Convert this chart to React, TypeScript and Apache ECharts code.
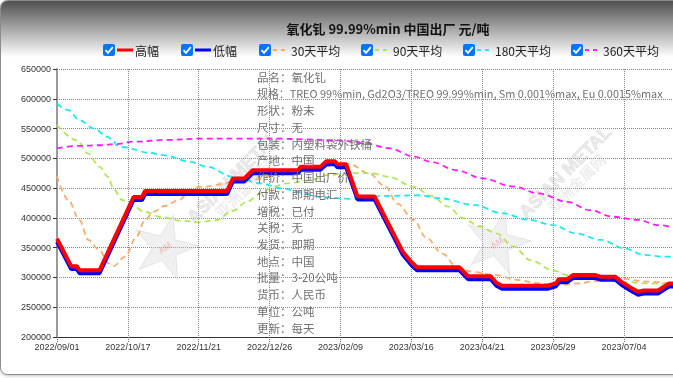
import React, { useEffect, useRef } from 'react';
import * as echarts from 'echarts';

// ---- data (x = trading-day index, 25 per labelled tick) ----
const tickLabels = ['2022/09/01', '2022/10/17', '2022/11/21', '2022/12/26', '2023/02/09', '2023/03/16', '2023/04/21', '2023/05/29', '2023/07/04'];

const seriesNames = ['高幅', '低幅', '30天平均', '90天平均', '180天平均', '360天平均'];

const highData = [
  [0, 365000], [5, 319000], [7, 319000], [8, 312000], [15, 312000], [27, 435000], [30, 435000], [31, 445000],
  [60, 445000], [62, 466000], [66, 466000], [69, 480000], [85, 480000], [86, 486000], [93, 486000], [95, 495000],
  [98, 495000], [99, 490000], [102, 490000], [106, 436000], [112, 436000], [122, 343000], [125, 326000], [127, 317000],
  [142, 317000], [145, 302000], [153, 302000], [155, 291000], [157, 286000], [173, 286000], [176, 290000], [177, 297000],
  [180, 297000], [182, 304000], [190, 304000], [192, 301000], [197, 301000], [199, 293000], [202, 284000], [205, 276000],
  [207, 278000], [212, 278000], [216, 290000], [217.3, 290000],
];

const lowData = [
  [0, 360000], [5, 314000], [7, 314000], [8, 307000], [15, 307000], [27, 430000], [30, 430000], [31, 440000],
  [60, 440000], [62, 461000], [66, 461000], [69, 475000], [85, 475000], [86, 481000], [93, 481000], [95, 490000],
  [98, 490000], [99, 485000], [102, 485000], [106, 431000], [112, 431000], [122, 338000], [125, 321000], [127, 312000],
  [142, 312000], [145, 297000], [153, 297000], [155, 286000], [157, 281000], [173, 281000], [176, 285000], [177, 292000],
  [180, 292000], [182, 299000], [190, 299000], [192, 296000], [197, 296000], [199, 288000], [202, 279000], [205, 271000],
  [207, 273000], [212, 273000], [216, 285000], [217.3, 285000],
];

const avg30Data = [
  [0, 470000], [4, 430000], [8, 396000], [11, 363000], [15, 346000], [18, 324000], [20, 319000], [24, 335000],
  [28, 368000], [31, 396000], [34, 410000], [38, 420000], [43, 430000], [47, 445000], [50, 452000], [67, 463000],
  [81, 475000], [93, 485000], [100, 491000], [103, 491000], [110, 475000], [116, 452000], [120, 424000], [126, 396000],
  [130, 368000], [136, 340000], [141, 318000], [146, 310000], [155, 304000], [162, 296000], [170, 290000], [177, 287000],
  [184, 290000], [190, 294000], [199, 298000], [208, 293000], [217.3, 290000],
];

const avg90Data = [
  [0, 556000], [7, 530000], [11, 508000], [15, 486000], [18, 469000], [20, 448000], [23, 430000], [27, 419000],
  [31, 410000], [37, 401000], [44, 395000], [50, 393000], [56, 396000], [62, 412000], [67, 427000], [72, 441000],
  [76, 452000], [81, 458000], [89, 463000], [96, 472000], [102, 475000], [111, 475000], [117, 469000], [126, 452000],
  [132, 437000], [138, 419000], [143, 400000], [149, 386000], [155, 374000], [161, 352000], [167, 329000], [175, 312000],
  [180, 304000], [187, 298600], [195, 294500], [202, 292000], [208, 290000], [217.3, 289000],
];

const avg180Data = [
  [0, 592000], [4, 581000], [8, 564000], [13, 550000], [18, 536000], [20, 528000], [21, 522000], [23, 519000],
  [33, 509000], [38, 505000], [47, 494000], [53, 486000], [62, 469000], [72, 458000], [79, 450000], [86, 443000],
  [93, 435000], [103, 432000], [117, 437000], [128, 438000], [135, 433000], [147, 422000], [157, 408000], [166, 397000],
  [175, 388000], [183, 374000], [192, 363000], [200, 349000], [207, 338000], [214, 335000], [217.3, 335000],
];

const avg360Data = [
  [0, 517000], [8, 521000], [15, 522000], [21, 524000], [27, 528000], [39, 531000], [50, 533000], [65, 533000],
  [79, 533000], [86, 532000], [100, 530000], [109, 525000], [117, 517000], [126, 503000], [132, 494000], [141, 480000],
  [150, 466500], [161, 452500], [170, 441000], [180, 427000], [188, 413000], [196, 402000], [205, 396500], [212, 388000],
  [217.3, 384000],
];

const infoLines = [
  '品名：氧化钆',
  '规格：TREO 99%min, Gd2O3/TREO 99.99%min, Sm 0.001%max, Eu 0.0015%max',
  '形状：粉末',
  '尺寸：无',
  '包装：内塑料袋外铁桶',
  '产地：中国',
  '作价：中国出厂价',
  '付款：即期电汇',
  '增税：已付',
  '关税：无',
  '发货：即期',
  '地点：中国',
  '批量：3-20公吨',
  '货币：人民币',
  '单位：公吨',
  '更新：每天',
];

const titleText = '氧化钆 99.99%min 中国出厂 元/吨';

// ---- styles ----
const colors = ['#ff0000', '#0000ff', '#f5ad6e', '#b2e65a', '#1ee8f2', '#ff1cff'];
const dashed = [false, false, true, true, true, true];
const legendCbX = [109, 187, 265, 367, 469, 577];

function starPoints(cx: number, cy: number, R: number, r: number, rot: number) {
  const pts: number[][] = [];
  for (let i = 0; i < 10; i++) {
    const a = rot + (i * Math.PI) / 5 - Math.PI / 2;
    const rr = i % 2 === 0 ? R : r;
    pts.push([cx + rr * Math.cos(a), cy + rr * Math.sin(a)]);
  }
  return pts;
}

export default function App() {
  const ref = useRef<HTMLDivElement>(null);

  useEffect(() => {
    const chart = echarts.init(ref.current!, null, { renderer: 'svg' });
    const FONT = '"Noto Sans CJK SC", "Noto Sans", sans-serif';

    const graphics: any[] = [];
    // frame + header gradient
    graphics.push({
      type: 'rect', z: -10, silent: true,
      shape: { x: 0.5, y: 0.5, width: 740, height: 374, r: 7 },
      style: { fill: '#ffffff', stroke: '#8c8c8c', lineWidth: 1, shadowBlur: 3, shadowColor: 'rgba(0,0,0,0.25)', shadowOffsetY: 1 },
    });
    graphics.push({
      type: 'rect', z: -9, silent: true,
      shape: { x: 1, y: 1, width: 740, height: 56, r: [6, 6, 0, 0] },
      style: {
        fill: new echarts.graphic.LinearGradient(0, 0, 0, 1, [
          { offset: 0, color: '#505050' },
          { offset: 1, color: '#ffffff' },
        ]),
      },
    });
    // title
    graphics.push({
      type: 'text', z: 50, x: 388, y: 28,
      style: { text: titleText, font: `bold 13px ${FONT}`, fill: '#111', align: 'center', verticalAlign: 'middle' },
    });
    // legend
    seriesNames.forEach((name, i) => {
      const cx = legendCbX[i];
      const cy = 50;
      graphics.push({
        type: 'rect', z: 50, shape: { x: cx - 6, y: cy - 6, width: 12, height: 12, r: 2 },
        style: { fill: '#0075ff' },
      });
      graphics.push({
        type: 'polyline', z: 51, shape: { points: [[cx - 3.5, cy + 0.2], [cx - 1, cy + 2.8], [cx + 3.8, cy - 2.8]] },
        style: { stroke: '#ffffff', lineWidth: 1.8, fill: null },
      });
      graphics.push({
        type: 'line', z: 50, shape: { x1: cx + 8, y1: cy, x2: cx + 24, y2: cy },
        style: { stroke: colors[i], lineWidth: dashed[i] ? 2 : 3, lineDash: dashed[i] ? [4, 4] : null },
      });
      graphics.push({
        type: 'text', z: 50, x: cx + 26, y: cy,
        style: { text: name, font: `12px ${FONT}`, fill: '#222', verticalAlign: 'middle' },
      });
    });
    // watermarks
    const wm = [
      { sx: 165, sy: 248, tx: 233, ty: 177, cx: 244, cy: 188 },
      { sx: 497, sy: 243, tx: 565, ty: 172, cx: 576, cy: 183 },
    ];
    wm.forEach((w) => {
      graphics.push({
        type: 'polygon', z: 1, silent: true,
        shape: { points: starPoints(w.sx, w.sy, 34, 13, 0.25) },
        style: { fill: 'rgba(205,205,205,0.3)', stroke: 'rgba(195,195,195,0.35)', lineWidth: 1 },
      });
      graphics.push({
        type: 'text', z: 1, silent: true, x: w.sx, y: w.sy, rotation: Math.PI / 5,
        style: { text: 'AM', font: 'bold 9px sans-serif', fill: 'rgba(230,100,100,0.3)', align: 'center', verticalAlign: 'middle' },
      });
      graphics.push({
        type: 'text', z: 1, silent: true, x: w.tx, y: w.ty, rotation: Math.PI / 4,
        style: { text: 'ASIAN METAL', font: 'bold 18px "Liberation Sans", Arial, sans-serif', fill: 'rgba(195,195,195,0.3)', stroke: 'rgba(175,175,175,0.3)', lineWidth: 0.8, align: 'center', verticalAlign: 'middle' },
      });
      graphics.push({
        type: 'text', z: 1, silent: true, x: w.cx, y: w.cy, rotation: Math.PI / 4,
        style: { text: '亚洲金属网', font: `bold 15px ${FONT}`, fill: 'rgba(195,195,195,0.3)', align: 'center', verticalAlign: 'middle' },
      });
    });
    // info block
    infoLines.forEach((t, i) => {
      graphics.push({
        type: 'text', z: 60, silent: true, x: 257, y: 76.7 + i * 16.73,
        style: { text: t, font: `${i === 1 ? 10.9 : 11.5}px ${FONT}`, fill: '#707070', verticalAlign: 'middle' },
      });
    });

    const datasets = [highData, lowData, avg30Data, avg90Data, avg180Data, avg360Data];
    const series = datasets.map((d, i) => ({
      name: seriesNames[i],
      type: 'line',
      data: d,
      showSymbol: false,
      symbol: 'none',
      smooth: dashed[i] ? 0.35 : false,
      smoothMonotone: dashed[i] ? 'x' : undefined,
      z: i === 0 ? 4 : i === 1 ? 3 : 2,
      lineStyle: {
        color: colors[i],
        width: dashed[i] ? 1.8 : 4,
        type: dashed[i] ? [6, 4] : 'solid',
      },
      itemStyle: { color: colors[i] },
    }));

    const option: any = {
      animation: false,
      backgroundColor: 'transparent',
      grid: { left: 57, right: 0, top: 69, bottom: 41, containLabel: false },
      xAxis: {
        type: 'value', min: 0, max: 217.3, interval: 25,
        axisLine: { show: true, lineStyle: { color: '#333', width: 1 } },
        axisTick: { show: true, length: 5, lineStyle: { color: '#666', type: 'dotted' } },
        axisLabel: {
          fontSize: 9, color: '#333', margin: 5, fontFamily: '"Liberation Sans", Arial, sans-serif',
          showMaxLabel: false,
          formatter: (v: number) => {
            const k = v / 25;
            return Number.isInteger(k) && tickLabels[k] ? tickLabels[k] : '';
          },
        },
        splitLine: { show: true, lineStyle: { color: '#888', type: 'dotted', width: 1 } },
      },
      yAxis: {
        type: 'value', min: 200000, max: 650000, interval: 50000,
        axisLine: { show: true, lineStyle: { color: '#9a9a9a', width: 2 } },
        axisTick: { show: true, length: 4, lineStyle: { color: '#333' } },
        axisLabel: {
          fontSize: 9, color: '#333', margin: 6, fontFamily: '"Liberation Sans", Arial, sans-serif',
          formatter: (v: number) => String(v),
        },
        splitLine: { show: true, lineStyle: { color: '#888', type: 'dotted', width: 1 } },
      },
      graphic: { elements: graphics },
      series,
    };
    chart.setOption(option);
    return () => chart.dispose();
  }, []);

  return <div ref={ref} style={{ position: 'fixed', left: 0, top: 0, width: 673, height: 378 }} />;
}
